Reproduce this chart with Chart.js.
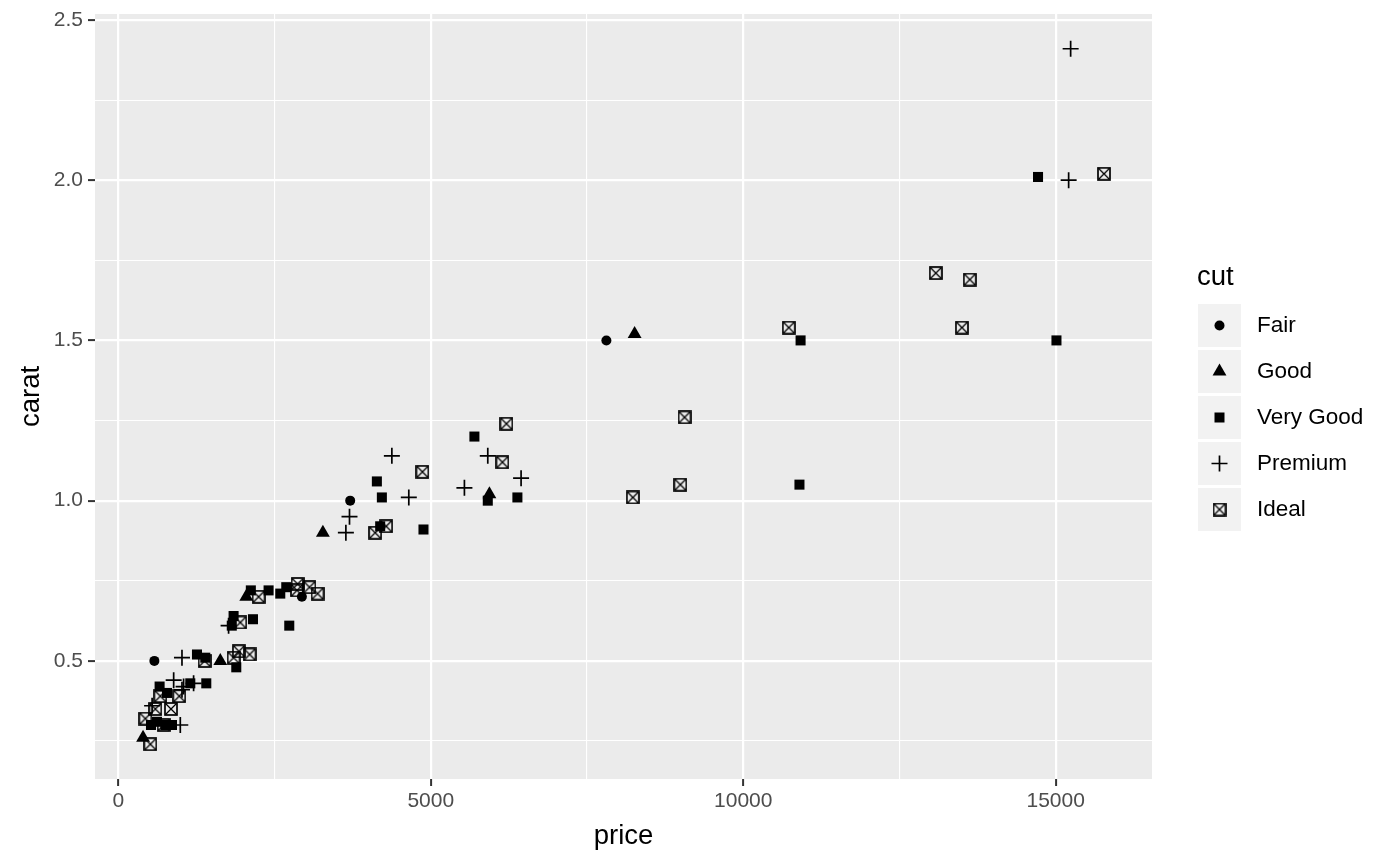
<!DOCTYPE html>
<html><head><meta charset="utf-8">
<script src="https://cdn.jsdelivr.net/npm/chart.js@4.4.1/dist/chart.umd.min.js"></script>
<style>html,body{margin:0;padding:0;background:#fff;}#wrap{width:1400px;height:866px;position:relative;}</style>
</head><body><div id="wrap"><canvas id="c" width="1400" height="866"></canvas></div>
<script>
// ---- data ----
const cutLevels = ['Fair', 'Good', 'Very Good', 'Premium', 'Ideal'];
const fairPrice  = [576, 2937, 3710, 7810];
const fairCarat  = [0.50, 0.70, 1.00, 1.50];
const goodPrice  = [395, 1631, 2047, 3273, 5938, 8262];
const goodCarat  = [0.26, 0.50, 0.70, 0.90, 1.02, 1.52];
const veryGoodPrice = [522, 618, 752, 858, 660, 778, 1151, 1407, 1258, 1391, 1887, 1844, 1815, 2154, 2735, 2120, 2404, 2591, 2687, 4137, 4217, 4190, 4883, 5698, 5912, 6386, 10900, 10918, 14718, 15013];
const veryGoodCarat = [0.30, 0.31, 0.30, 0.30, 0.42, 0.40, 0.43, 0.43, 0.52, 0.51, 0.48, 0.64, 0.61, 0.63, 0.61, 0.72, 0.72, 0.71, 0.73, 1.06, 1.01, 0.92, 0.91, 1.20, 1.00, 1.01, 1.05, 1.50, 2.01, 1.50];
const premiumPrice = [540, 885, 1018, 1044, 1204, 991, 1018, 1764, 3641, 3699, 4377, 4648, 5538, 5912, 6445, 15208, 15240];
const premiumCarat = [0.36, 0.44, 0.51, 0.42, 0.43, 0.30, 0.41, 0.61, 0.90, 0.95, 1.14, 1.01, 1.04, 1.14, 1.07, 2.00, 2.41];
const idealPrice = [432, 512, 592, 672, 725, 842, 975, 1380, 1844, 1929, 2100, 1951, 2244, 2858, 2868, 3058, 3187, 4110, 4286, 4866, 6146, 6210, 8234, 8994, 9061, 10729, 13082, 13500, 13626, 15773];
const idealCarat = [0.32, 0.24, 0.35, 0.39, 0.30, 0.35, 0.39, 0.50, 0.51, 0.53, 0.52, 0.62, 0.70, 0.72, 0.74, 0.73, 0.71, 0.90, 0.92, 1.09, 1.12, 1.24, 1.01, 1.05, 1.26, 1.54, 1.71, 1.54, 1.69, 2.02];
const xTickLabels = ['0', '5000', '10000', '15000'];
const xMinorTicks = [2500, 7500, 12500];
const yTickLabels = ['0.5', '1.0', '1.5', '2.0', '2.5'];
const yMinorTicks = [0.25, 0.75, 1.25, 1.75, 2.25];

// ---- helpers ----
const FONT = '"Liberation Sans", Arial, Helvetica, sans-serif';
function pts(xs, ys) { return xs.map((x, i) => ({x: x, y: ys[i]})); }

function makeIdealMarker() {
  const c = document.createElement('canvas');
  c.width = 14; c.height = 14;
  const g = c.getContext('2d');
  g.strokeStyle = '#000';
  g.lineWidth = 1.7;
  g.strokeRect(1, 1, 12, 12);
  g.lineWidth = 1.3;
  g.beginPath();
  g.moveTo(1.5, 1.5); g.lineTo(12.5, 12.5);
  g.moveTo(12.5, 1.5); g.lineTo(1.5, 12.5);
  g.stroke();
  return c;
}
const idealMarker = makeIdealMarker();

const styles = [
  {pointStyle: 'circle', pointRadius: 5, borderWidth: 0},
  {pointStyle: 'triangle', pointRadius: 8, borderWidth: 0},
  {pointStyle: 'rect', pointRadius: 7.1, borderWidth: 0},
  {pointStyle: 'cross', pointRadius: 8, borderWidth: 1.7},
  {pointStyle: idealMarker, pointRadius: 7, borderWidth: 0}
];
const seriesData = [
  pts(fairPrice, fairCarat),
  pts(goodPrice, goodCarat),
  pts(veryGoodPrice, veryGoodCarat),
  pts(premiumPrice, premiumCarat),
  pts(idealPrice, idealCarat)
];

const datasets = cutLevels.map((name, i) => Object.assign({
  label: name,
  data: seriesData[i],
  backgroundColor: '#000',
  borderColor: '#000',
  pointHoverRadius: styles[i].pointRadius
}, styles[i]));

const xMajorVals = xTickLabels.map(Number);
const yMajorVals = yTickLabels.map(Number);
const isXMajor = v => xMajorVals.some(m => Math.abs(m - v) < 1e-6);
const isYMajor = v => yMajorVals.some(m => Math.abs(m - v) < 1e-6);

const panelBg = {
  id: 'panelBg',
  beforeDraw(chart) {
    const {ctx, chartArea: a} = chart;
    ctx.save();
    ctx.fillStyle = '#EBEBEB';
    ctx.fillRect(a.left, a.top, a.right - a.left, a.bottom - a.top);
    ctx.restore();
  }
};

function drawSymbol(ctx, i, x, y) {
  ctx.save();
  ctx.fillStyle = '#000'; ctx.strokeStyle = '#000';
  if (i === 0) { ctx.beginPath(); ctx.arc(x, y, 5, 0, Math.PI * 2); ctx.fill(); }
  else if (i === 1) {
    const r = 8;
    ctx.beginPath();
    ctx.moveTo(x, y - r);
    ctx.lineTo(x + r * Math.sin(Math.PI * 2 / 3), y - r * Math.cos(Math.PI * 2 / 3));
    ctx.lineTo(x - r * Math.sin(Math.PI * 2 / 3), y - r * Math.cos(Math.PI * 2 / 3));
    ctx.closePath(); ctx.fill();
  }
  else if (i === 2) { ctx.fillRect(x - 5, y - 5, 10, 10); }
  else if (i === 3) {
    ctx.lineWidth = 1.7; ctx.beginPath();
    ctx.moveTo(x - 8, y); ctx.lineTo(x + 8, y);
    ctx.moveTo(x, y - 8); ctx.lineTo(x, y + 8); ctx.stroke();
  }
  else { ctx.drawImage(idealMarker, x - 7, y - 7); }
  ctx.restore();
}

const legendPlugin = {
  id: 'ggLegend',
  afterDraw(chart) {
    const ctx = chart.ctx;
    ctx.save();
    ctx.fillStyle = '#000';
    ctx.font = '27.5px ' + FONT;
    ctx.textBaseline = 'alphabetic';
    ctx.textAlign = 'left';
    ctx.fillText('cut', 1197, 285);
    cutLevels.forEach((name, i) => {
      const top = 304 + i * 46;
      ctx.fillStyle = '#F2F2F2';
      ctx.fillRect(1198, top, 43, 43);
      drawSymbol(ctx, i, 1219.5, top + 21.5);
      ctx.fillStyle = '#000';
      ctx.font = '22.5px ' + FONT;
      ctx.textBaseline = 'middle';
      ctx.fillText(name, 1257, top + 22);
    });
    ctx.restore();
  }
};

new Chart(document.getElementById('c'), {
  type: 'scatter',
  data: {datasets: datasets},
  plugins: [panelBg, legendPlugin],
  options: {
    responsive: false,
    devicePixelRatio: 1,
    animation: false,
    layout: {padding: {top: 14, right: 248, bottom: 0, left: 0}},
    plugins: {legend: {display: false}, tooltip: {enabled: false}},
    scales: {
      x: {
        type: 'linear', position: 'bottom',
        min: -374, max: 16542,
        border: {display: false},
        grid: {
          color: '#FFFFFF',
          lineWidth: c => (c.tick && isXMajor(c.tick.value)) ? 2.2 : 1.1,
          tickColor: c => (c.tick && isXMajor(c.tick.value)) ? '#333333' : 'rgba(0,0,0,0)',
          tickLength: 7,
          tickWidth: 2
        },
        afterBuildTicks: s => {
          s.ticks = xMajorVals.concat(xMinorTicks).sort((a, b) => a - b).map(v => ({value: v}));
        },
        ticks: {
          autoSkip: false, maxRotation: 0, minRotation: 0,
          color: '#4D4D4D', font: {family: FONT, size: 21}, padding: 3,
          callback: v => { const i = xMajorVals.findIndex(m => Math.abs(m - v) < 1e-6); return i >= 0 ? xTickLabels[i] : ''; }
        },
        title: {display: true, text: 'price', color: '#000', font: {family: FONT, size: 27.5}, padding: {top: 0, bottom: 13.5}},
        afterFit: s => { s.height = 87; s.paddingLeft = 0; s.paddingRight = 0; }
      },
      y: {
        type: 'linear', position: 'left',
        min: 0.1315, max: 2.5185,
        border: {display: false},
        grid: {
          color: '#FFFFFF',
          lineWidth: c => (c.tick && isYMajor(c.tick.value)) ? 2.2 : 1.1,
          tickColor: c => (c.tick && isYMajor(c.tick.value)) ? '#333333' : 'rgba(0,0,0,0)',
          tickLength: 7,
          tickWidth: 2
        },
        afterBuildTicks: s => {
          s.ticks = yMajorVals.concat(yMinorTicks).sort((a, b) => a - b).map(v => ({value: v}));
        },
        ticks: {
          autoSkip: false,
          color: '#4D4D4D', font: {family: FONT, size: 21}, padding: 5,
          callback: v => { const i = yMajorVals.findIndex(m => Math.abs(m - v) < 1e-6); return i >= 0 ? yTickLabels[i] : ''; }
        },
        title: {display: true, text: 'carat', color: '#000', font: {family: FONT, size: 27.5}, padding: {top: 14.5, bottom: 0}},
        afterFit: s => { s.width = 95; s.paddingTop = 0; s.paddingBottom = 0; }
      }
    }
  }
});
</script></body></html>
